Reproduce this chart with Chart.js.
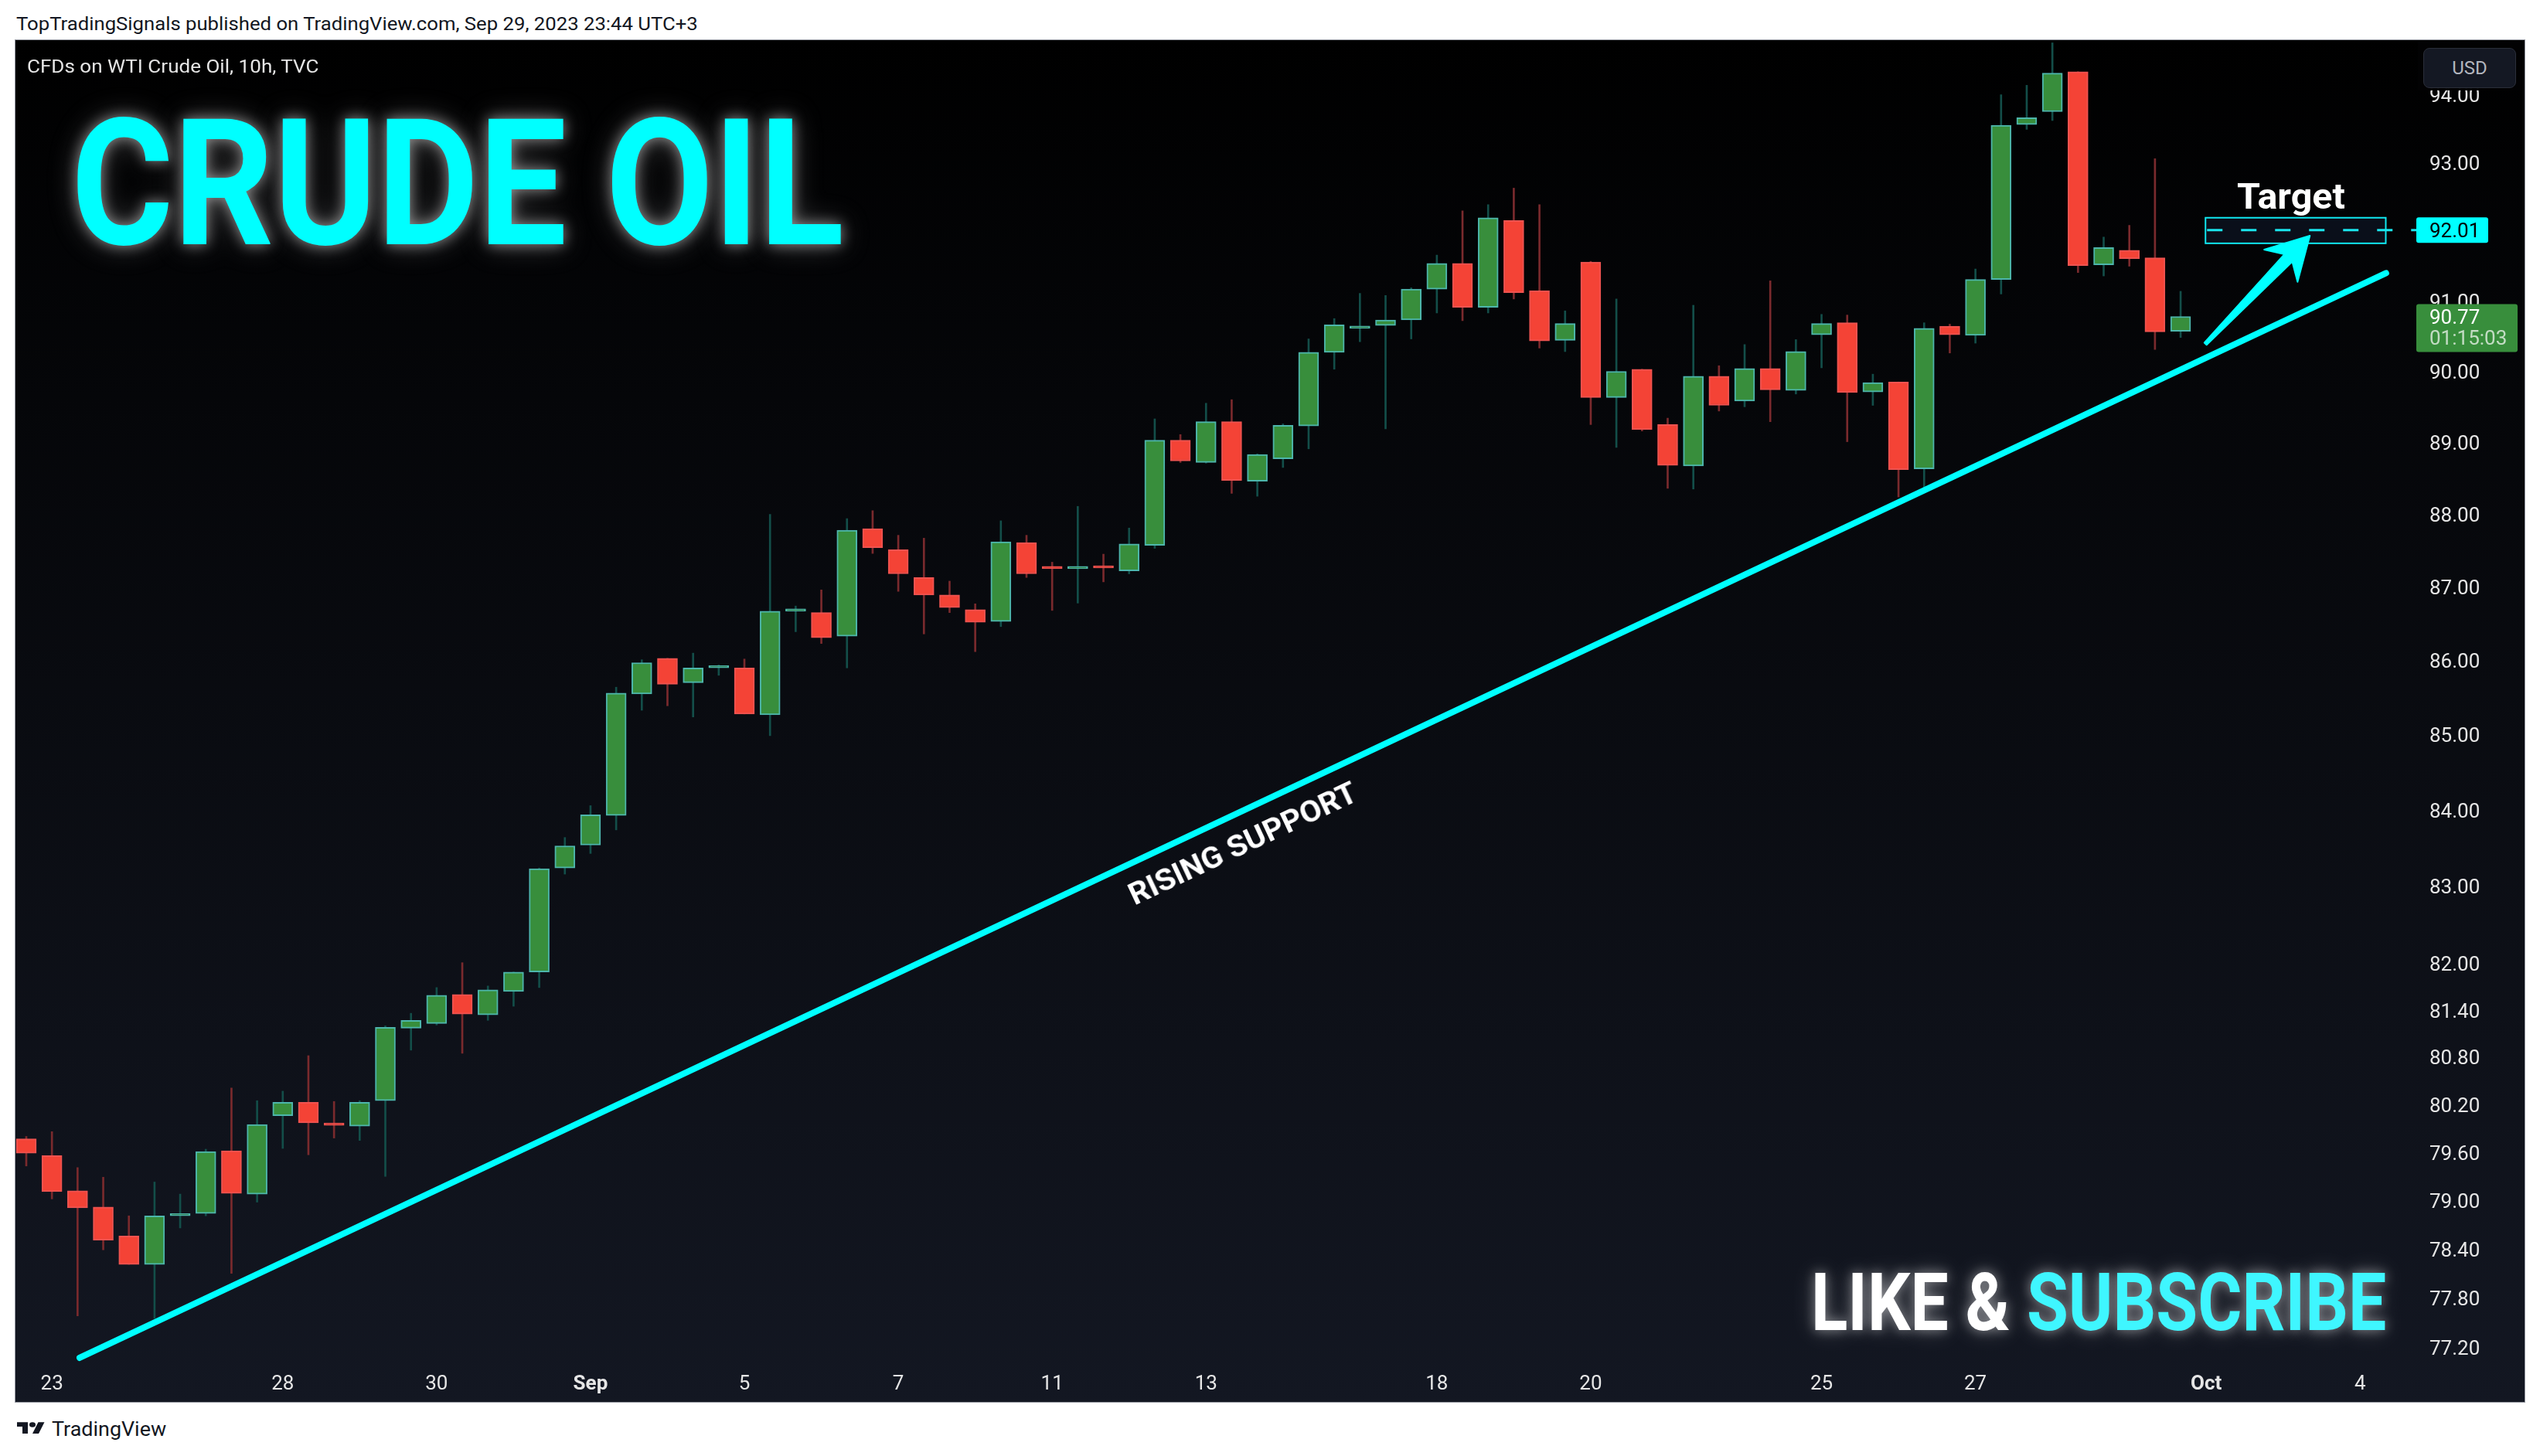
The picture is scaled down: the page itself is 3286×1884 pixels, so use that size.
<!DOCTYPE html>
<html lang="en">
<head>
<meta charset="UTF-8">
<title>CFDs on WTI Crude Oil, 10h, TVC</title>
<script src="https://cdn.jsdelivr.net/npm/chart.js"></script>
<style>
    html, body { margin: 0; padding: 0; background: #fff; }
    body { width: 3286px; height: 1884px; position: relative; overflow: hidden; font-family: Roboto, "Liberation Sans", sans-serif; }

    .abs { position: absolute; white-space: nowrap; line-height: 1; transform-origin: 0 0; z-index: 2; }

    #header { left: 21px; top: 19px; font-size: 24px; color: #131722; }

    #box {
        position: absolute; left: 19px; top: 51px;
        width: 3246px; height: 1762px;
        border: 1px solid #9598a1;
        background: linear-gradient(#000 0%, #131722 100%);
        overflow: hidden;
    }
    #box canvas { position: absolute; left: 0; top: 0; }

    #symbol { left: 35px; top: 75px; font-size: 23px; color: #e6e6e6; }

    #title {
        left: 92px; top: 124px; font-size: 228px; font-weight: 700; color: #00ffff;
        text-shadow: 0 0 18px rgba(230,230,230,0.55), 0 0 40px rgba(200,200,200,0.35);
    }

    #cta {
        left: 2343px; top: 1634px; font-size: 104px; font-weight: 700; color: #fff;
        text-shadow: 0 0 16px rgba(255,255,255,0.45), 0 0 34px rgba(220,220,220,0.3);
    }
    #cta span { color: #3ff6ff; }

    #target { left: 2894px; top: 231px; font-size: 46px; font-weight: 700; color: #fff; }

    #support {
        left: 1608px; top: 1092px; font-size: 39px; font-weight: 700; color: #fff;
        transform-origin: 50% 50%;
        transform: translate(-50%, -50%) rotate(-25.19deg);
    }
    #support span { display: inline-block; transform-origin: 50% 50%; }

    #usdpad { position: absolute; left: 3128px; top: 54px; width: 134px; height: 63px; background: #020203; z-index: 2; }
    #usd {
        position: absolute; left: 3135px; top: 62px; width: 118px; height: 50px;
        border: 1px solid #2a2e39; border-radius: 8px; background: #141823;
        color: #b2b5be; font-size: 24px; line-height: 50px; text-align: center; z-index: 3;
    }

    #footer { left: 67px; top: 1836px; font-size: 26px; color: #131722; }
    #logo { position: absolute; left: 22px; top: 1837px; }
</style>
</head>
<body>

<div id="header" class="abs" data-fit="882">TopTradingSignals published on TradingView.com, Sep 29, 2023 23:44 UTC+3</div>

<div id="box">
    <canvas id="chart" width="3246" height="1762"></canvas>
</div>

<div id="symbol" class="abs" data-fit="377">CFDs on WTI Crude Oil, 10h, TVC</div>
<div id="title" class="abs" data-fit="1000">CRUDE OIL</div>
<div id="target" class="abs" data-fit="140">Target</div>
<div id="support" class="abs"><span data-fit-center="322">RISING SUPPORT</span></div>
<div id="cta" class="abs" data-fit="744">LIKE &amp; <span>SUBSCRIBE</span></div>
<div id="usdpad"></div>
<div id="usd">USD</div>

<svg id="logo" width="36" height="23" viewBox="0 0 36 28" preserveAspectRatio="none">
    <path fill="#131722" d="M14 22H7V11H0V4h14v18zM28 22h-8l7.5-18h8L28 22z"/>
    <circle fill="#131722" cx="20" cy="8" r="4"/>
</svg>
<div id="footer" class="abs" data-fit="148">TradingView</div>

<script>
    // 10h candles, Aug 22 - Sep 29 2023 (index 0 = last bar of Aug 22)
    const opens  = [79.76, 79.55, 79.11, 78.91, 78.55, 78.20, 78.80, 78.83, 79.61, 79.07,
                    80.05, 80.22, 79.96, 79.92, 80.24, 81.16, 81.22, 81.59, 81.33, 81.63,
                    81.88, 83.23, 83.53, 83.92, 85.54, 86.02, 85.69, 85.89, 85.89, 85.26,
                    86.66, 86.64, 86.32, 87.79, 87.50, 87.12, 86.88, 86.68, 86.52, 87.60,
                    87.27, 87.24, 87.28, 87.21, 87.56, 89.02, 88.71, 89.28, 88.45, 88.76,
                    89.22, 90.26, 90.60, 90.64, 90.72, 91.16, 91.53, 90.90, 92.15, 91.14,
                    90.43, 91.55, 89.62, 90.02, 89.24, 88.66, 89.92, 89.57, 90.03, 89.72,
                    90.51, 90.68, 89.70, 89.84, 88.62, 90.63, 90.50, 91.30, 93.55, 93.74,
                    94.33, 91.51, 91.72, 91.61, 90.56];
    const highs  = [79.79, 79.85, 79.40, 79.28, 78.80, 79.22, 79.07, 79.63, 80.40, 80.24,
                    80.36, 80.81, 80.23, 80.24, 81.19, 81.35, 81.68, 82.00, 81.70, 81.88,
                    83.23, 83.63, 84.05, 85.63, 86.00, 86.02, 86.09, 85.93, 86.01, 87.99,
                    86.73, 86.95, 87.93, 88.04, 87.70, 87.66, 87.07, 86.76, 87.90, 87.70,
                    87.33, 88.10, 87.44, 87.80, 89.32, 89.10, 89.54, 89.59, 88.83, 89.25,
                    90.45, 90.74, 91.10, 91.07, 91.18, 91.65, 92.29, 92.38, 92.62, 92.38,
                    90.85, 91.56, 91.02, 90.02, 89.33, 90.93, 90.07, 90.37, 91.28, 90.44,
                    90.80, 90.79, 89.95, 89.84, 90.68, 90.66, 91.45, 93.99, 94.13, 94.76,
                    94.33, 91.91, 92.08, 93.05, 91.13];
    const lows   = [79.42, 79.01, 77.57, 78.38, 78.20, 77.54, 78.65, 78.80, 78.09, 78.97,
                    79.64, 79.56, 79.77, 79.74, 79.29, 80.88, 81.20, 80.84, 81.26, 81.44,
                    81.68, 83.15, 83.42, 83.73, 85.32, 85.38, 85.23, 85.79, 85.27, 84.98,
                    86.38, 86.22, 85.89, 87.45, 86.93, 86.35, 86.64, 86.11, 86.45, 87.12,
                    86.67, 86.77, 87.06, 87.17, 87.52, 88.71, 88.70, 88.28, 88.24, 88.64,
                    88.90, 90.02, 90.41, 89.18, 90.45, 90.82, 90.71, 90.82, 91.02, 90.32,
                    90.27, 89.24, 88.92, 89.15, 88.35, 88.34, 89.43, 89.49, 89.28, 89.67,
                    90.04, 89.00, 89.51, 88.23, 88.35, 90.25, 90.39, 91.09, 93.48, 93.61,
                    91.40, 91.35, 91.49, 90.30, 90.47];
    const closes = [79.58, 79.10, 78.90, 78.50, 78.20, 78.80, 78.82, 79.60, 79.08, 79.94,
                    80.22, 79.96, 79.93, 80.22, 81.17, 81.26, 81.58, 81.34, 81.65, 81.88,
                    83.22, 83.52, 83.93, 85.55, 85.96, 85.67, 85.89, 85.92, 85.27, 86.66,
                    86.69, 86.30, 87.77, 87.53, 87.17, 86.88, 86.71, 86.51, 87.61, 87.17,
                    87.24, 87.27, 87.25, 87.58, 89.02, 88.73, 89.28, 88.46, 88.82, 89.23,
                    90.26, 90.65, 90.63, 90.72, 91.16, 91.53, 90.90, 92.19, 91.11, 90.42,
                    90.67, 89.62, 89.99, 89.17, 88.67, 89.92, 89.51, 90.03, 89.73, 90.27,
                    90.67, 89.69, 89.83, 88.61, 90.60, 90.51, 91.30, 93.54, 93.65, 94.31,
                    91.50, 91.76, 91.60, 90.55, 90.77];

    // time axis (bar index -> date label)
    const xTickPos    = [1, 10, 16, 22, 28, 34, 40, 46, 55, 61, 70, 76, 85, 91];
    const xTickLabels = ['23', '28', '30', 'Sep', '5', '7', '11', '13', '18', '20', '25', '27', 'Oct', '4'];
    const monthLabels = ['Sep', 'Oct'];

    // price axis
    const yTicks = [77.2, 77.8, 78.4, 79.0, 79.6, 80.2, 80.8, 81.4, 82, 83, 84, 85, 86, 87, 88, 89, 90, 91, 92, 93, 94];

    // drawings (bar index, price)
    const supportX = [2.08, 92.01];
    const supportY = [77.06, 91.39];
    const targetPrice = 92.01;
    const targetBoxX = [84.97, 92.0];
    const targetBoxY = [91.82, 92.19];
    const arrowX = [84.97, 89.04];
    const arrowY = [90.38, 91.93];
    const lastPrice = 90.77;
    const countdown = '01:15:03';

    const UP = '#388e3c', UP_EDGE = '#4db6ac', UP_WICK = '#134e49';
    const DN = '#f44336', DN_EDGE = '#ef5350', DN_WICK = '#7a2a2d';
    const CYAN = '#00ffff';

    const isUp = closes.map((c, i) => c >= opens[i]);
    const bodyData = opens.map((o, i) => ({ x: i, y: [o, closes[i]] }));
    const wickData = lows.map((l, i) => ({ x: i, y: [l, highs[i]] }));

    function roundRect(ctx, x, y, w, h, r) {
        ctx.beginPath();
        ctx.moveTo(x + r, y);
        ctx.arcTo(x + w, y, x + w, y + h, r);
        ctx.arcTo(x + w, y + h, x, y + h, r);
        ctx.arcTo(x, y + h, x, y, r);
        ctx.arcTo(x, y, x + w, y, r);
        ctx.closePath();
    }

    // target box, dashed level, arrow and price tags
    const overlay = {
        id: 'overlay',
        afterDatasetsDraw(chart) {
            const { ctx, chartArea: a, scales: { x, y } } = chart;
            ctx.save();

            const bx0 = x.getPixelForValue(targetBoxX[0]);
            const bx1 = x.getPixelForValue(targetBoxX[1]);
            const by0 = y.getPixelForValue(targetBoxY[1]);
            const by1 = y.getPixelForValue(targetBoxY[0]);
            ctx.fillStyle = '#0a0f1a';
            ctx.fillRect(bx0, by0, bx1 - bx0, by1 - by0);
            ctx.strokeStyle = '#10e8f0';
            ctx.lineWidth = 2;
            ctx.strokeRect(bx0, by0, bx1 - bx0, by1 - by0);

            const ty = y.getPixelForValue(targetPrice);
            ctx.strokeStyle = '#1ae6ee';
            ctx.lineWidth = 3;
            ctx.setLineDash([20, 24]);
            ctx.beginPath();
            ctx.moveTo(bx0 + 2, ty);
            ctx.lineTo(a.right + 6, ty);
            ctx.stroke();
            ctx.setLineDash([]);

            // arrow
            const tx = x.getPixelForValue(arrowX[0]), tly = y.getPixelForValue(arrowY[0]);
            const px = x.getPixelForValue(arrowX[1]), py = y.getPixelForValue(arrowY[1]);
            const L = Math.hypot(px - tx, py - tly);
            const ux = (px - tx) / L, uy = (py - tly) / L, nx = -uy, ny = ux;
            const pt = (s, w) => [tx + ux * s + nx * w, tly + uy * s + ny * w];
            const pts = [pt(0, 2), pt(L - 40, 7), pt(L - 54, 30), pt(L, 0), pt(L - 54, -30), pt(L - 40, -7), pt(0, -2)];
            ctx.fillStyle = CYAN;
            ctx.strokeStyle = CYAN;
            ctx.lineWidth = 2;
            ctx.lineJoin = 'round';
            ctx.beginPath();
            pts.forEach((p, i) => i ? ctx.lineTo(p[0], p[1]) : ctx.moveTo(p[0], p[1]));
            ctx.closePath();
            ctx.fill();
            ctx.stroke();

            // price tags on the axis
            const lx = a.right + 6;
            ctx.font = '26px Roboto';
            ctx.textBaseline = 'middle';
            ctx.textAlign = 'left';

            ctx.fillStyle = CYAN;
            roundRect(ctx, lx, ty - 16.5, 93, 33, 3);
            ctx.fill();
            ctx.fillStyle = '#000';
            ctx.fillText(targetPrice.toFixed(2), a.right + 23, ty + 3);

            const ly = y.getPixelForValue(lastPrice);
            ctx.fillStyle = UP;
            roundRect(ctx, lx, ly - 16, 131, 62, 3);
            ctx.fill();
            ctx.fillStyle = '#ffffff';
            ctx.fillText(lastPrice.toFixed(2), a.right + 23, ly + 3);
            ctx.fillStyle = 'rgba(230,240,230,0.8)';
            ctx.fillText(countdown, a.right + 23, ly + 30);

            ctx.restore();
        }
    };

    new Chart(document.getElementById('chart'), {
        type: 'bar',
        data: {
            datasets: [
                {
                    label: 'wicks',
                    data: wickData,
                    backgroundColor: isUp.map(u => u ? UP_WICK : DN_WICK),
                    borderWidth: 0,
                    barThickness: 2,
                    grouped: false,
                    order: 2
                },
                {
                    label: 'bodies',
                    data: bodyData,
                    backgroundColor: isUp.map(u => u ? UP : DN),
                    borderColor: isUp.map(u => u ? UP_EDGE : DN_EDGE),
                    borderWidth: 2,
                    borderSkipped: false,
                    barThickness: 26,
                    minBarLength: 3,
                    grouped: false,
                    order: 1
                },
                {
                    type: 'line',
                    label: 'Rising support',
                    data: supportX.map((v, i) => ({ x: v, y: supportY[i] })),
                    borderColor: CYAN,
                    borderWidth: 8,
                    borderCapStyle: 'round',
                    pointRadius: 0,
                    order: 0
                }
            ]
        },
        options: {
            responsive: false,
            animation: false,
            devicePixelRatio: 1,
            events: [],
            layout: { padding: 0 },
            plugins: { legend: { display: false }, tooltip: { enabled: false } },
            scales: {
                x: {
                    type: 'linear',
                    min: -0.422,
                    max: 93.01,
                    bounds: 'data',
                    offset: false,
                    grid: { display: false, drawTicks: false },
                    border: { display: false },
                    afterBuildTicks: s => { s.ticks = xTickPos.map(v => ({ value: v })); },
                    afterFit: s => { s.height = 49; s.paddingLeft = 0; s.paddingRight = 0; },
                    ticks: {
                        autoSkip: false,
                        maxRotation: 0,
                        padding: 11,
                        color: '#e6e6e6',
                        font: c => ({ family: 'Roboto', size: 26, weight: monthLabels.includes(xTickLabels[c.index]) ? 'bold' : 'normal' }),
                        callback: (v, i) => xTickLabels[i]
                    }
                },
                y: {
                    type: 'logarithmic',
                    position: 'right',
                    min: 76.985,
                    max: 94.80,
                    bounds: 'data',
                    grid: { display: false, drawTicks: false },
                    border: { display: false },
                    afterBuildTicks: s => { s.ticks = yTicks.map(v => ({ value: v })); },
                    afterFit: s => { s.width = 146; s.paddingTop = 0; s.paddingBottom = 0; },
                    ticks: {
                        autoSkip: false,
                        padding: 23,
                        labelOffset: 4,
                        color: '#e6e6e6',
                        font: { family: 'Roboto', size: 26 },
                        callback: v => Number(v).toFixed(2)
                    }
                }
            }
        },
        plugins: [overlay]
    });

    // squeeze overlay texts to the measured widths
    document.querySelectorAll('[data-fit]').forEach(el => {
        const k = parseFloat(el.dataset.fit) / el.offsetWidth;
        el.style.transform = 'scaleX(' + k + ')';
    });
    document.querySelectorAll('[data-fit-center]').forEach(el => {
        const k = parseFloat(el.dataset.fitCenter) / el.offsetWidth;
        el.style.transform = 'scaleX(' + k + ')';
    });
</script>
</body>
</html>
